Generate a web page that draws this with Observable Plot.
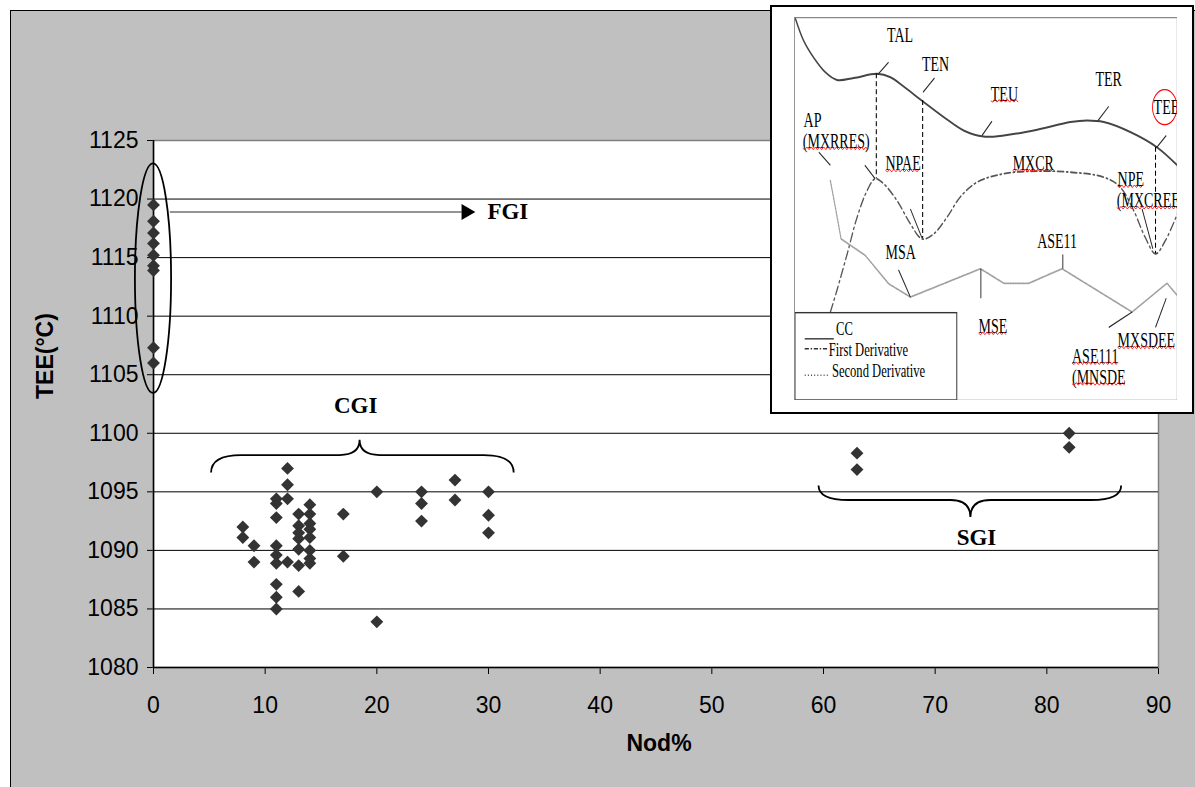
<!DOCTYPE html>
<html><head><meta charset="utf-8">
<script src="https://cdn.jsdelivr.net/npm/d3@7"></script>
<script src="https://cdn.jsdelivr.net/npm/@observablehq/plot@0.6"></script>
<style>
html,body{margin:0;padding:0;background:#fff;}
#wrap{position:relative;width:1195px;height:787px;overflow:hidden;}
#bg{position:absolute;left:10px;top:10px;width:1200px;height:800px;background:#c0c0c0;border-left:1px solid #000;border-top:1px solid #000;}
#main{position:absolute;left:0;top:0;}
#insetBox{position:absolute;left:770px;top:5px;width:424px;height:409px;box-sizing:border-box;background:#fff;border:2px solid #000;}
#inset{position:absolute;left:794px;top:17px;width:383px;height:383px;overflow:hidden;}
</style></head>
<body>
<div id="wrap"><div id="bg"></div><div id="main"></div><div id="insetBox"></div><div id="inset"></div></div>
<script>
// ---------- main chart data ----------
const nod = [0,0,0,0,0,0,0,0,0,
  8,8, 9,9,
  11,11,11,11,11,11,11,11,11,
  12,12,12,12,
  13,13,13,13,13,13,13,
  14,14,14,14,14,14,14,14,
  17,17, 20,20, 24,24,24, 27,27, 30,30,30, 63,63, 82,82];
const tee = [1119.5,1118.1,1117.1,1116.2,1115.2,1114.3,1113.9,1107.3,1106.0,
  1092.0,1091.1, 1090.4,1089.0,
  1094.4,1094.0,1092.8,1090.4,1089.6,1088.9,1087.1,1086.0,1085.0,
  1097.0,1095.6,1094.4,1089.0,
  1093.1,1092.1,1091.5,1091.0,1090.1,1088.7,1086.5,
  1093.9,1093.1,1092.3,1091.8,1091.1,1090.0,1089.3,1088.9,
  1093.1,1089.5, 1095.0,1083.9, 1095.0,1094.0,1092.5, 1096.0,1094.3, 1095.0,1093.0,1091.5,
  1098.3,1096.9, 1100.0,1098.8];
const xTicks = [0,10,20,30,40,50,60,70,80,90];
const yTicks = [1080,1085,1090,1095,1100,1105,1110,1115,1120,1125];
const gridY = [1085,1090,1095,1100,1105,1110,1115,1120];

// group annotations (data units)
const fgiLabel = [{t:"FGI", x:29.9, y:1118.9}];
const groupLabels = [
  {t:"CGI", x:18.1, y:1102.4},
  {t:"SGI", x:73.7, y:1091.1}
];
const fgiArrow = {x1:1.46, x2:27.6, y:1118.9, head:28.0};
const fgiEllipse = {cx:0, cy:1113.2, rx:1.62, ry:9.8};
const braces = [
  {x1:5.2, x2:32.3, xm:18.5, yEnd:1096.6, yMid:1098.1, yTip:1099.4},
  {x1:59.6, x2:86.7, xm:73.2, yEnd:1095.5, yMid:1094.26, yTip:1092.8}
];

const pts = nod.map((n,i)=>({nod:n, tee:tee[i]}));
const serif = "'Liberation Serif', 'Times New Roman', serif";

const main = Plot.plot({
  width:1195, height:787,
  marginLeft:153, marginRight:37, marginTop:140, marginBottom:120,
  style:{background:"transparent", fontFamily:"'Liberation Sans', Arial, sans-serif", fontSize:"23px", color:"black", overflow:"visible"},
  x:{domain:[0,90], ticks:xTicks, tickSize:7, tickPadding:22, label:null, tickFormat:d=>String(d)},
  y:{domain:[1080,1125], ticks:yTicks, tickSize:6, tickPadding:9, label:null, tickFormat:d=>String(d)},
  marks:[
    Plot.frame({fill:"white", stroke:"#808080", strokeWidth:1.5}),
    Plot.ruleY(gridY, {stroke:"black", strokeWidth:1}),
    Plot.ruleX([0], {stroke:"black", strokeWidth:1.5}),
    Plot.ruleY([1080], {stroke:"black", strokeWidth:1.5}),
    Plot.link([fgiArrow], {x1:"x1", x2:"x2", y1:"y", y2:"y", stroke:"#707070", strokeWidth:1.5}),
    Plot.dot([fgiArrow], {x:"head", y:"y", symbol:"triangle", r:5.9, rotate:90, fill:"black", stroke:null}),
    Plot.dot(pts, {x:"nod", y:"tee", symbol:"diamond2", r:5.8, fill:"#333333", stroke:null}),
    Plot.text(fgiLabel, {x:"x", y:"y", text:"t", textAnchor:"start", fontFamily:serif, fontWeight:"bold", fontSize:23, fill:"black"}),
    Plot.text(groupLabels, {x:"x", y:"y", text:"t", textAnchor:"middle", fontFamily:serif, fontWeight:"bold", fontSize:23, fill:"black"}),
    Plot.text(["Nod%"], {frameAnchor:"bottom", dy:83, dx:3, fontWeight:"bold", fontSize:23}),
    Plot.text(["TEE(°C)"], {frameAnchor:"left", dx:-108, dy:-5, rotate:-90, fontWeight:"bold", fontSize:23})
  ]
});
document.getElementById("main").appendChild(main);

// annotations drawn through the plot's scales
const sx = v => main.scale("x").apply(v);
const sy = v => main.scale("y").apply(v);
const svgMain = d3.select(main);
for (const b of braces) {
  const x1=sx(b.x1), x2=sx(b.x2), xm=sx(b.xm), ye=sy(b.yEnd), ymid=sy(b.yMid), yt=sy(b.yTip);
  const re=30, rm=20;
  const d = `M${x1},${ye} Q${x1},${ymid} ${x1+re},${ymid} L${xm-rm},${ymid} Q${xm},${ymid} ${xm},${yt}`+
            ` Q${xm},${ymid} ${xm+rm},${ymid} L${x2-re},${ymid} Q${x2},${ymid} ${x2},${ye}`;
  svgMain.append("path").attr("d",d).attr("fill","none").attr("stroke","black").attr("stroke-width",1.8);
}
{
  const e=fgiEllipse;
  svgMain.append("ellipse")
    .attr("cx",sx(e.cx)).attr("cy",sy(e.cy))
    .attr("rx",sx(e.cx+e.rx)-sx(e.cx)).attr("ry",sy(e.cy-e.ry)-sy(e.cy))
    .attr("fill","none").attr("stroke","black").attr("stroke-width",1.8);
}

// ---------- inset diagram data (0-100 frame units) ----------
const ccU = [0.3,2.4,5.0,8.1,11.1,15.5,21.6,25.1,28.5,33.3,39.0,44.2,49.4,54.7,63.4,72.1,76.4,80.8,87.7,94.7,100];
const ccV = [0.35,6.0,10.4,14.3,16.3,15.8,14.7,15.6,18.0,21.7,26.0,29.5,31.1,30.8,29.3,27.3,26.9,27.3,29.9,33.9,38.6];
const d1U = [9.4,11.1,13.8,16.4,19.0,21.1,23.3,26.8,30.3,33.3,36.4,39.9,43.3,47.7,54.7,63.4,72.1,80.8,85.1,88.6,91.6,94.3,96.9,100];
const d1V = [76.9,71.3,61.7,52.1,45.2,42.1,43.4,47.8,53.9,57.8,56.5,52.1,46.9,43.0,40.8,40.1,40.4,41.7,44.3,50.4,57.4,61.7,58.2,51.3];
const d2U = [9.4,10.7,12.2,18.5,24.6,30.3,48.6,54.7,61.2,69.9,88.2,97.3,100];
const d2V = [42.6,49.5,57.8,62.1,69.5,73.0,65.6,69.4,69.4,65.6,76.9,69.4,72.6];
const dropU  = [21.4,33.5,94.3];
const dropV1 = [14.7,21.7,33.9];
const dropV2 = [42.1,57.8,61.7];
const leaderU1 = [24.6,36.6,51.6,82.1,97.1,6.4,18.4,30.3,90.8,27.2,48.7,70.1,82.1,94.3];
const leaderV1 = [11.7,15.8,27.1,23.2,30.8,35.2,38.6,50.0,50.0,65.9,65.6,61.9,80.9,80.9];
const leaderU2 = [21.8,33.6,49.0,79.3,94.5,9.4,21.1,33.3,93.6,30.3,48.7,70.1,88.2,97.1];
const leaderV2 = [14.9,19.5,30.8,26.9,34.1,38.6,42.1,57.5,60.4,73.0,73.3,65.6,76.9,73.3];
const labelText = ["TAL","TEN","TEU","TER","TEE","AP","(MXRRES)","NPAE","MXCR","NPE","(MXCREE)","MSA","ASE11","MSE","MXSDEE","ASE111","(MNSDE"];
const labelU    = [24.2,33.3,51.3,78.6,93.8,2.4,2.2,23.8,57.0,84.4,84.2,23.8,63.4,48.1,84.4,72.5,72.5];
const labelV    = [6.4,14.0,21.7,17.8,25.2,28.6,34.1,39.9,39.9,44.0,49.6,63.0,60.1,82.4,86.1,90.2,95.6];
const legendText = ["CC","First Derivative","Second Derivative"];
const legendTextU = [10.9,9.0,9.8];
const legendTextV = [83.0,88.4,93.8];
const legendBox = {u1:0.26, u2:42.5, v1:77.2, v2:100};
const circled = {u:96.7, v:23.4};

const cc = ccU.map((u,i)=>({u, v:ccV[i]}));
const d1 = d1U.map((u,i)=>({u, v:d1V[i]}));
const d2 = d2U.map((u,i)=>({u, v:d2V[i]}));
const drops = dropU.map((u,i)=>({u, v1:dropV1[i], v2:dropV2[i]}));
const leaders = leaderU1.map((u,i)=>({u1:u, v1:leaderV1[i], u2:leaderU2[i], v2:leaderV2[i]}));
const labels = labelText.map((t,i)=>({t, u:labelU[i], v:labelV[i]}));
const legendLabels = legendText.map((t,i)=>({t, u:legendTextU[i], v:legendTextV[i]}));
const keyCC = [{u1:2.7, u2:10.3, v:83.9}];
const keyD1 = [{u1:2.7, u2:9.0, v:86.5}];
const keyD2 = [{u1:2.7, u2:9.0, v:93.4}];

const SQ = 0.70, W = 383/SQ;
const inset = Plot.plot({
  width:W, height:383, margin:0,
  x:{domain:[0,100], range:[0,W], axis:null},
  y:{domain:[0,100], range:[0,383], axis:null},
  style:{background:"white", fontFamily:serif, fontSize:"20px", color:"black", overflow:"hidden"},
  marks:[
    Plot.line(cc, {x:"u", y:"v", curve:"catmull-rom", stroke:"#444", strokeWidth:2, clip:true}),
    Plot.line(d1, {x:"u", y:"v", curve:"catmull-rom", stroke:"#555", strokeWidth:1.8, strokeDasharray:"9,4,2,4", clip:true}),
    Plot.line(d2, {x:"u", y:"v", curve:"linear", stroke:"#a0a0a0", strokeWidth:1.8, strokeDasharray:"2,1.5", clip:true}),
    Plot.ruleX(drops, {x:"u", y1:"v1", y2:"v2", stroke:"black", strokeWidth:1.5, strokeDasharray:"5,3"}),
    Plot.link(leaders, {x1:"u1", y1:"v1", x2:"u2", y2:"v2", stroke:"#222", strokeWidth:1.3}),
    Plot.text(labels, {x:"u", y:"v", text:"t", textAnchor:"start", lineAnchor:"bottom", clip:true, fill:"black"}),
    Plot.dot([circled], {x:"u", y:"v", r:17.5, stroke:"red", strokeWidth:1.2, fill:"none", clip:true}),
    Plot.rect([legendBox], {x1:"u1", x2:"u2", y1:"v1", y2:"v2", fill:"white", stroke:"#333", strokeWidth:1.4}),
    Plot.link(keyCC, {x1:"u1", x2:"u2", y1:"v", y2:"v", stroke:"#333", strokeWidth:1.4}),
    Plot.link(keyD1, {x1:"u1", x2:"u2", y1:"v", y2:"v", stroke:"#333", strokeWidth:1.4, strokeDasharray:"6,2.5,2,2.5"}),
    Plot.link(keyD2, {x1:"u1", x2:"u2", y1:"v", y2:"v", stroke:"#555", strokeWidth:1.4, strokeDasharray:"1.5,3"}),
    Plot.text(legendLabels, {x:"u", y:"v", text:"t", textAnchor:"start", lineAnchor:"bottom", fill:"black", fontSize:18}),
    Plot.frame({stroke:"#888", strokeWidth:1.5})
  ]
});
inset.style.maxWidth = "none";
inset.style.transformOrigin = "0 0";
inset.style.transform = `scaleX(${SQ})`;
document.getElementById("inset").appendChild(inset);

// red spell-check squiggles under some labels (as in the scanned figure)
const wavy = new Set(["TEU","(MXRRES)","NPAE","MXCR","NPE","(MXCREE)","MSE","MXSDEE","ASE111","(MNSDE"]);
const sqg = d3.select(inset).append("g").attr("fill","none").attr("stroke","red").attr("stroke-width",1);
d3.select(inset).selectAll("text").each(function(){
  if (!wavy.has(this.textContent)) return;
  const bb = this.getBBox();
  const ctm = this.getScreenCTM(), root = inset.getScreenCTM();
  const toRoot = root.inverse().multiply(ctm);
  const p0 = new DOMPoint(bb.x, bb.y + bb.height*0.80).matrixTransform(toRoot);
  const p1 = new DOMPoint(bb.x + bb.width, bb.y + bb.height*0.80).matrixTransform(toRoot);
  const step = 3, amp = 1.3;
  let d = `M${p0.x},${p0.y}`;
  let k = 0;
  for (let x = p0.x + step; x <= p1.x; x += step, k++) d += ` L${x},${p0.y + (k%2 ? -amp : amp)}`;
  sqg.append("path").attr("d", d);
});
</script>
</body></html>
